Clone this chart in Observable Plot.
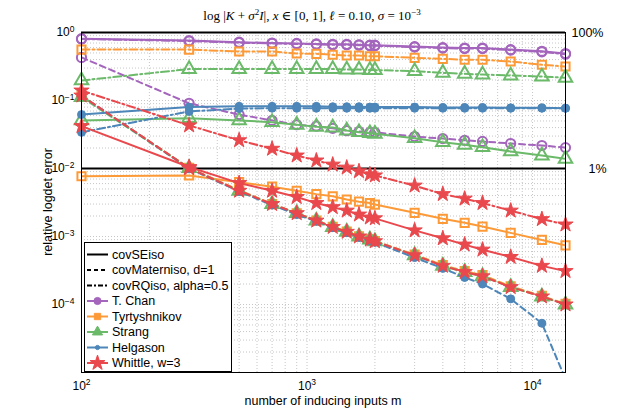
<!DOCTYPE html>
<html><head><meta charset="utf-8">
<script src="https://cdn.jsdelivr.net/npm/d3@7"></script>
<script src="https://cdn.jsdelivr.net/npm/@observablehq/plot@0.6"></script>
<style>
body{margin:0;background:#fff;}
svg{display:block;}
</style></head><body>
<div id="chart"></div>
<script>
// ---- data ----
const m = [100,300,500,700,900,1100,1300,1500,1700,1900,2000,3000,4000,5000,6000,8000,11000,14000];

const chanSE  = [0.81,0.76,0.72,0.70,0.69,0.68,0.67,0.67,0.66,0.65,0.65,0.62,0.60,0.59,0.59,0.56,0.53,0.49];
const chanMat = [0.43,0.091,0.062,0.051,0.044,0.042,0.039,0.036,0.035,0.034,0.034,0.0295,0.0275,0.026,0.025,0.0233,0.0218,0.0203];
const chanRQ  = [0.80,0.75,0.71,0.69,0.68,0.67,0.66,0.66,0.65,0.64,0.64,0.61,0.59,0.58,0.58,0.55,0.52,0.48];

const tyrtSE  = [0.0077,0.0079,0.0063,0.0054,0.0047,0.0042,0.0039,0.0035,0.00325,0.0031,0.00295,0.00223,0.00182,0.00159,0.0014,0.00113,0.00089,0.00074];
const tyrtMat = [0.117,0.0102,0.0048,0.0030,0.0022,0.00172,0.00139,0.00118,0.00101,0.00091,0.00086,0.00054,0.00038,0.00031,0.00027,0.000185,0.000134,0.000102];
const tyrtRQ  = [0.56,0.56,0.526,0.526,0.491,0.486,0.47,0.459,0.459,0.448,0.448,0.424,0.41,0.397,0.397,0.375,0.335,0.316];

const strangSE  = [0.051,0.055,0.051,0.048,0.044,0.041,0.040,0.0362,0.0342,0.0331,0.0324,0.0279,0.0244,0.0223,0.0206,0.0178,0.0155,0.0139];
const strangMat = [0.112,0.0101,0.0047,0.0030,0.0022,0.00171,0.00138,0.00117,0.0010,0.0009,0.00085,0.00053,0.00037,0.0003,0.00026,0.00018,0.000131,0.0001];
const strangRQ  = [0.197,0.29,0.29,0.29,0.29,0.29,0.29,0.285,0.285,0.28,0.28,0.27,0.255,0.247,0.241,0.233,0.225,0.216];

const helgSE  = [0.062,0.080,0.082,0.082,0.082,0.082,0.081,0.081,0.081,0.080,0.080,0.080,0.079,0.079,0.079,0.078,0.078,0.077];
const helgMat = [0.118,0.0100,0.0046,0.0029,0.0021,0.00168,0.00135,0.00114,0.00097,0.00087,0.00082,0.00049,0.00034,0.00025,0.0002,0.000121,0.000053,0.000008];
const helgRQ  = [0.034,0.069,0.076,0.077,0.077,0.077,0.077,0.077,0.077,0.077,0.077,0.077,0.077,0.077,0.077,0.077,0.077,0.077];

const whitSE  = [0.042,0.0105,0.0061,0.0047,0.0038,0.0031,0.0027,0.0024,0.0021,0.0019,0.00185,0.00123,0.00094,0.00076,0.00064,0.0005,0.00037,0.00031];
const whitMat = [0.118,0.0101,0.0047,0.0030,0.0022,0.00171,0.00138,0.00117,0.0010,0.0009,0.00085,0.00053,0.00037,0.0003,0.00026,0.00018,0.000131,0.0001];
const whitRQ  = [0.14,0.043,0.026,0.0195,0.0155,0.0131,0.0114,0.0103,0.0091,0.0082,0.0079,0.0056,0.0042,0.0036,0.0031,0.0024,0.0018,0.0015];

const methods = ["T. Chan","Tyrtyshnikov","Strang","Helgason","Whittle, w=3"];
const colors  = ["#a465bd","#fd9a38","#6bba69","#4d86b9","#e9484d"];
const kernels = ["covSEiso","covMaterniso, d=1","covRQiso, alpha=0.5"];

const xTicks = [100,1000,10000];
const yTicks = [1,0.1,0.01,0.001,0.0001];
const xGrid = [200,300,400,500,600,700,800,900,1000,2000,3000,4000,5000,6000,7000,8000,9000,10000];
const yGrid = [
  0.00002,0.00003,0.00004,0.00005,0.00006,0.00007,0.00008,0.00009,0.0001,
  0.0002,0.0003,0.0004,0.0005,0.0006,0.0007,0.0008,0.0009,0.001,
  0.002,0.003,0.004,0.005,0.006,0.007,0.008,0.009,0.01,
  0.02,0.03,0.04,0.05,0.06,0.07,0.08,0.09,0.1,
  0.2,0.3,0.4,0.5,0.6,0.7,0.8,0.9];
const pctLabels = [{v:1, t:"100%"}, {v:0.01, t:"1%"}];
const yMin = 1e-5, yMax = 1, xMin = 100, xMax = 14000;

// ---- build ----
const seriesByMethod = [
  [chanSE, chanMat, chanRQ],
  [tyrtSE, tyrtMat, tyrtRQ],
  [strangSE, strangMat, strangRQ],
  [helgSE, helgMat, helgRQ],
  [whitSE, whitMat, whitRQ]
];
const dashes = [null, "6,4", "8,3,2,3"];
const markerOf = (i) => [
  {symbol:"circle", fill:"none", r:4.6},
  {symbol:"square", fill:"none", r:4.6},
  {symbol:"triangle", fill:"none", r:5},
  {symbol:"circle", fill:colors[3], r:4},
  {symbol:"star", fill:colors[4], r:4.8}
][i];

const dataMarks = [];
seriesByMethod.forEach((ks, mi) => {
  ks.forEach((vals, ki) => {
    const rows = m.map((x, j) => ({m: x, v: vals[j]}));
    const lo = {x:"m", y:"v", stroke: colors[mi], strokeWidth: 2, clip: true};
    if (dashes[ki]) lo.strokeDasharray = dashes[ki];
    dataMarks.push(Plot.line(rows, lo));
    const mk = markerOf(mi);
    dataMarks.push(Plot.dot(rows.filter(d => d.v >= yMin), {x:"m", y:"v", symbol: mk.symbol, r: mk.r, fill: mk.fill,
      stroke: colors[mi], strokeWidth: mk.fill === "none" ? 2 : 1}));
  });
});

const fmt = d => "10^" + Math.round(Math.log10(d));

const chart = Plot.plot({
  width: 625, height: 417,
  marginLeft: 81, marginRight: 60, marginTop: 32, marginBottom: 45,
  style: {fontFamily: '"Liberation Sans", Arial, sans-serif', fontSize: "12px", color: "#000", background: "#fff", overflow: "visible"},
  x: {type: "log", domain: [xMin, xMax]},
  y: {type: "log", domain: [yMin, yMax]},
  marks: [
    Plot.ruleX(xGrid, {stroke: "#b8b8b8", strokeOpacity: 1, strokeWidth: 0.8, strokeDasharray: "1,2"}),
    Plot.ruleY(yGrid, {stroke: "#b8b8b8", strokeOpacity: 1, strokeWidth: 0.8, strokeDasharray: "1,2"}),
    Plot.axisX({ticks: xTicks, tickFormat: fmt, tickSize: 0, tickPadding: 9, label: null}),
    Plot.axisY({ticks: yTicks, tickFormat: fmt, tickSize: 0, tickPadding: 7, label: null}),
    Plot.ruleY([0.01], {stroke: "black", strokeWidth: 2}),
    ...dataMarks,
    Plot.ruleY([1], {stroke: "black", strokeWidth: 2}),
    Plot.frame({stroke: "black", strokeWidth: 1}),
    Plot.text(pctLabels.slice(0,1), {y: "v", text: "t", frameAnchor: "right", textAnchor: "start", dx: 6, fontSize: 12.5}),
    Plot.text(pctLabels.slice(1), {y: "v", text: "t", frameAnchor: "right", textAnchor: "start", dx: 23, fontSize: 12.5})
  ]
});
document.getElementById("chart").appendChild(chart);

const svg = d3.select(chart);
// superscript tick labels
svg.selectAll("text").each(function() {
  const s = this.textContent;
  const mm = /^10\^(-?\d+)$/.exec(s);
  if (mm) {
    const el = d3.select(this);
    el.text("10");
    el.append("tspan").attr("dy", "-0.55em").attr("font-size", "8.5px").text(mm[1].replace("-", "−"));
  }
});

// title (LaTeX-like)
const title = svg.append("text").attr("x", 312).attr("y", 20).attr("text-anchor", "middle")
  .attr("font-family", '"Liberation Serif", "DejaVu Serif", serif').attr("font-size", 13);
const parts = [
  ["log |"], ["K", "i"], [" + "], ["σ", "i"], ["2", "sup"], ["I", "i", "down"], ["|, "], ["x", "i"],
  [" ∈ [0, 1], "], ["ℓ", "i"], [" = 0.10, "], ["σ", "i"], [" = 10"], ["−3", "sup"]
];
parts.forEach(([t, st, extra]) => {
  const ts = title.append("tspan").text(t);
  if (st === "i") ts.attr("font-style", "italic");
  if (st === "sup") ts.attr("font-size", 9).attr("dy", -5);
  if (extra === "down") ts.attr("dy", 5);
});

// axis titles
svg.append("text").attr("x", 323).attr("y", 405).attr("text-anchor", "middle")
  .attr("font-size", 12.5).text("number of inducing inputs m");
svg.append("text").attr("transform", "translate(52,202) rotate(-90)").attr("text-anchor", "middle")
  .attr("font-size", 12.5).text("relative logdet error");

// legend
const lg = svg.append("g").attr("font-size", 12.5);
lg.append("rect").attr("x", 84.5).attr("y", 242.5).attr("width", 147).attr("height", 129)
  .attr("fill", "white").attr("stroke", "black").attr("stroke-width", 1);
const items = [
  ...kernels.map((k, i) => ({label: k, color: "black", dash: dashes[i], marker: null})),
  ...methods.map((k, i) => ({label: k, color: colors[i], dash: null, marker: i}))
];
items.forEach((it, i) => {
  const y = 254.5 + i * 15.5;
  const ln = lg.append("line").attr("x1", 87).attr("x2", 108).attr("y1", y).attr("y2", y)
    .attr("stroke", it.color).attr("stroke-width", 2);
  if (it.dash) ln.attr("stroke-dasharray", it.dash === "6,4" ? "4,3" : "5,2,2,2");
  if (it.marker !== null) {
    const types = [d3.symbolCircle, d3.symbolSquare, d3.symbolTriangle, d3.symbolCircle, d3.symbolStar];
    const sizes = [40, 40, 45, 14, 70];
    lg.append("path").attr("d", d3.symbol(types[it.marker], sizes[it.marker])())
      .attr("transform", `translate(97.5,${y})`).attr("fill", it.color).attr("stroke", it.color).attr("stroke-width", 1);
  }
  lg.append("text").attr("x", 112).attr("y", y).attr("dy", "0.35em").attr("text-anchor", "start").text(it.label);
});
</script>
</body></html>
